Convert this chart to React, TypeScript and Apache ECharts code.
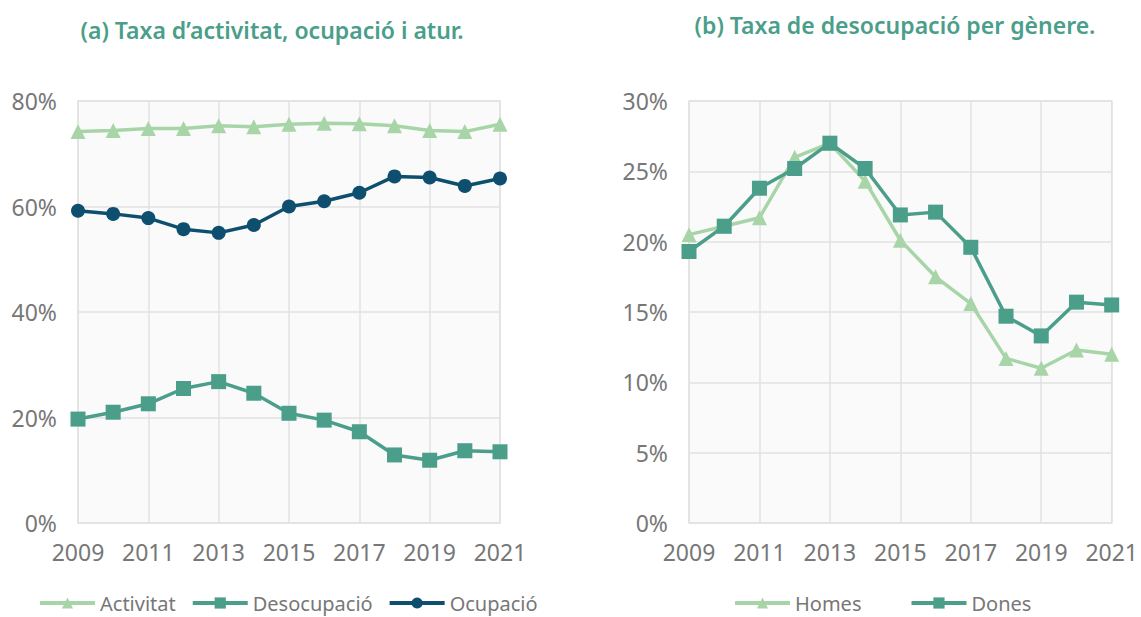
import React, { useEffect, useRef } from "react";
import * as echarts from "echarts";

const years = ["2009","2010","2011","2012","2013","2014","2015","2016","2017","2018","2019","2020","2021"];
const activitat = [74.2, 74.4, 74.8, 74.8, 75.3, 75.1, 75.6, 75.8, 75.7, 75.3, 74.4, 74.2, 75.6];
const desocupacio = [19.7, 21.0, 22.6, 25.5, 26.8, 24.6, 20.8, 19.5, 17.3, 12.9, 11.9, 13.7, 13.5];
const ocupacio = [59.2, 58.6, 57.8, 55.7, 55.0, 56.5, 60.0, 61.0, 62.6, 65.7, 65.5, 63.9, 65.3];
const homes = [20.5, 21.1, 21.7, 26.0, 27.0, 24.3, 20.1, 17.5, 15.6, 11.7, 11.0, 12.3, 12.0];
const dones = [19.3, 21.1, 23.8, 25.2, 27.0, 25.2, 21.9, 22.1, 19.6, 14.7, 13.3, 15.7, 15.5];

const titleA = "(a) Taxa d\u2019activitat, ocupació i atur.";
const titleB = "(b) Taxa de desocupació per gènere.";

const C_LIGHT = "#a8d5a8";
const C_TEAL = "#4a9e8a";
const C_DARK = "#0e4f6f";
const FONT = "Noto Sans";

export default function App() {
  const ref = useRef<HTMLDivElement>(null);
  useEffect(() => {
    if (!ref.current) return;
    const chart = echarts.init(ref.current, undefined, { renderer: "svg" });
    const xAxisBase = (gridIndex: number) => ({
      type: "category",
      gridIndex,
      data: years,
      boundaryGap: false,
      axisLine: { show: false },
      axisTick: { show: false },
      axisLabel: { interval: 1, color: "#777", fontSize: 23, fontFamily: FONT, margin: 17 },
      splitLine: { show: true, interval: 1, lineStyle: { color: "#e2e2e2", width: 1.5 } },
    });
    const yAxisBase = (gridIndex: number, max: number, interval: number) => ({
      type: "value",
      gridIndex,
      min: 0,
      max,
      interval,
      axisLine: { show: false },
      axisTick: { show: false },
      axisLabel: { color: "#777", fontSize: 23, fontFamily: FONT, margin: 21, formatter: "{value}%" },
      splitLine: { show: true, lineStyle: { color: "#e2e2e2", width: 1.5 } },
    });
    const lineSeries = (name: string, data: number[], color: string, symbol: string, size: number, idx: number) => ({
      name,
      type: "line",
      data,
      xAxisIndex: idx,
      yAxisIndex: idx,
      symbol,
      symbolSize: size,
      showAllSymbol: true,
      lineStyle: { color, width: 3.5 },
      itemStyle: { color, borderWidth: 0 },
      emphasis: { disabled: true },
    });
    const legendText = { color: "#777", fontSize: 20, fontFamily: FONT };
    chart.setOption({
      animation: false,
      backgroundColor: "#fff",
      title: [
        {
          text: titleA,
          left: 267,
          top: 13,
          textAlign: "center",
          textStyle: { color: C_TEAL, fontSize: 23, fontWeight: 600, fontFamily: FONT },
        },
        {
          text: titleB,
          left: 890,
          top: 8,
          textAlign: "center",
          textStyle: { color: C_TEAL, fontSize: 23, fontWeight: 600, fontFamily: FONT },
        },
      ],
      legend: [
        {
          data: ["Activitat", "Desocupació", "Ocupació"],
          left: 33,
          top: 588,
          itemWidth: 55,
          itemHeight: 14,
          itemGap: 15,
          lineStyle: { width: 4 },
          textStyle: legendText,
        },
        {
          data: ["Homes", "Dones"],
          left: 728,
          top: 588,
          itemWidth: 55,
          itemHeight: 14,
          itemGap: 48,
          lineStyle: { width: 4 },
          textStyle: legendText,
        },
      ],
      grid: [
        { left: 78, right: 641, top: 101, bottom: 94, show: true, backgroundColor: "#fafafa", borderColor: "#e2e2e2", borderWidth: 1.5 },
        { left: 689, right: 28, top: 101, bottom: 94, show: true, backgroundColor: "#fafafa", borderColor: "#e2e2e2", borderWidth: 1.5 },
      ],
      xAxis: [xAxisBase(0), xAxisBase(1)],
      yAxis: [yAxisBase(0, 80, 20), yAxisBase(1, 30, 5)],
      series: [
        lineSeries("Activitat", activitat, C_LIGHT, "triangle", 15, 0),
        lineSeries("Desocupació", desocupacio, C_TEAL, "rect", 15, 0),
        lineSeries("Ocupació", ocupacio, C_DARK, "circle", 14, 0),
        lineSeries("Homes", homes, C_LIGHT, "triangle", 15, 1),
        lineSeries("Dones", dones, C_TEAL, "rect", 15, 1),
      ],
    });
    return () => chart.dispose();
  }, []);
  return <div ref={ref} style={{ width: 1141, height: 617, position: "absolute", left: 0, top: 0 }} />;
}
